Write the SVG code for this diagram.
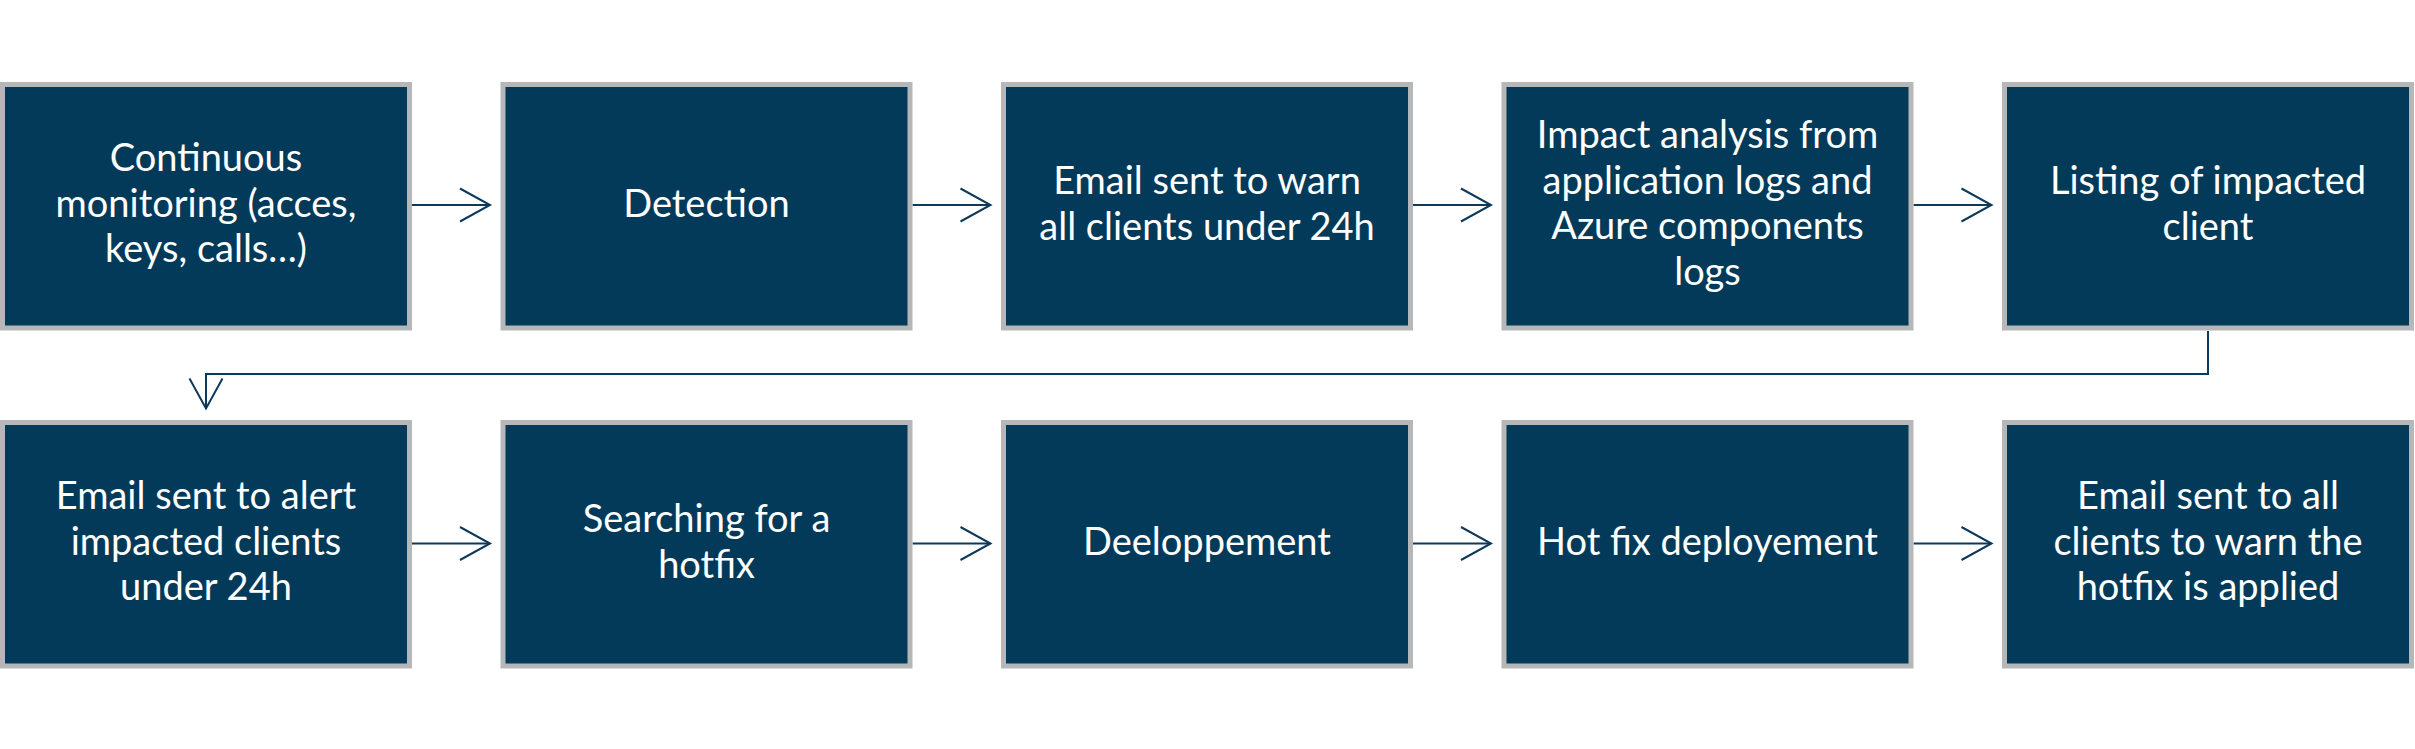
<svg xmlns="http://www.w3.org/2000/svg" width="2415" height="749" viewBox="0 0 2415 749">
<style>
.box{fill:#033a59;stroke:#b6b7b8;stroke-width:5}
.t{fill:#ffffff;font-family:Lato,"Open Sans","Liberation Sans",sans-serif;font-size:38px;text-anchor:middle}
.c{fill:none;stroke:#0d3a5b;stroke-width:2}
</style>
<defs>
<marker id="ah" markerUnits="userSpaceOnUse" markerWidth="40" markerHeight="40" refX="0" refY="0" viewBox="-32 -20 34 40" orient="auto" overflow="visible">
<path d="M -30 -16.5 L 0 0 L -30 16.5" fill="none" stroke="#0d3a5b" stroke-width="2"/>
</marker>
</defs>
<rect width="2415" height="749" fill="#ffffff"/>
<g id="connectors">
<path class="c" d="M412 205 H490" marker-end="url(#ah)"/>
<path class="c" d="M912.5 205 H990.5" marker-end="url(#ah)"/>
<path class="c" d="M1413 205 H1491" marker-end="url(#ah)"/>
<path class="c" d="M1913.5 205 H1991.5" marker-end="url(#ah)"/>
<path class="c" d="M2208 331 V374 H206 V408.5" marker-end="url(#ah)"/>
<path class="c" d="M412 543.5 H490" marker-end="url(#ah)"/>
<path class="c" d="M912.5 543.5 H990.5" marker-end="url(#ah)"/>
<path class="c" d="M1413 543.5 H1491" marker-end="url(#ah)"/>
<path class="c" d="M1913.5 543.5 H1991.5" marker-end="url(#ah)"/>
</g>
<g id="n1"><rect class="box" x="2.5" y="84.5" width="407" height="243.5"/>
<text class="t" x="206" y="171"><tspan x="206">Continuous</tspan><tspan x="206" dy="45.5">monitoring (acces,</tspan><tspan x="206" dy="45.5">keys, calls…)</tspan></text></g>
<g id="n2"><rect class="box" x="503" y="84.5" width="407" height="243.5"/>
<text class="t" x="706.5" y="217"><tspan x="706.5">Detection</tspan></text></g>
<g id="n3"><rect class="box" x="1003.5" y="84.5" width="407" height="243.5"/>
<text class="t" x="1207" y="194"><tspan x="1207">Email sent to warn</tspan><tspan x="1207" dy="45.5">all clients under 24h</tspan></text></g>
<g id="n4"><rect class="box" x="1504" y="84.5" width="407" height="243.5"/>
<text class="t" x="1707.5" y="148"><tspan x="1707.5">Impact analysis from</tspan><tspan x="1707.5" dy="45.5">application logs and</tspan><tspan x="1707.5" dy="45.5">Azure components</tspan><tspan x="1707.5" dy="45.5">logs</tspan></text></g>
<g id="n5"><rect class="box" x="2004.5" y="84.5" width="407" height="243.5"/>
<text class="t" x="2208" y="194"><tspan x="2208">Listing of impacted</tspan><tspan x="2208" dy="45.5">client</tspan></text></g>
<g id="n6"><rect class="box" x="2.5" y="422.5" width="407" height="243.5"/>
<text class="t" x="206" y="509"><tspan x="206">Email sent to alert</tspan><tspan x="206" dy="45.5">impacted clients</tspan><tspan x="206" dy="45.5">under 24h</tspan></text></g>
<g id="n7"><rect class="box" x="503" y="422.5" width="407" height="243.5"/>
<text class="t" x="706.5" y="532"><tspan x="706.5">Searching for a</tspan><tspan x="706.5" dy="45.5">hotfix</tspan></text></g>
<g id="n8"><rect class="box" x="1003.5" y="422.5" width="407" height="243.5"/>
<text class="t" x="1207" y="555"><tspan x="1207">Deeloppement</tspan></text></g>
<g id="n9"><rect class="box" x="1504" y="422.5" width="407" height="243.5"/>
<text class="t" x="1707.5" y="555"><tspan x="1707.5">Hot fix deployement</tspan></text></g>
<g id="n10"><rect class="box" x="2004.5" y="422.5" width="407" height="243.5"/>
<text class="t" x="2208" y="509"><tspan x="2208">Email sent to all</tspan><tspan x="2208" dy="45.5">clients to warn the</tspan><tspan x="2208" dy="45.5">hotfix is applied</tspan></text></g>
</svg>
